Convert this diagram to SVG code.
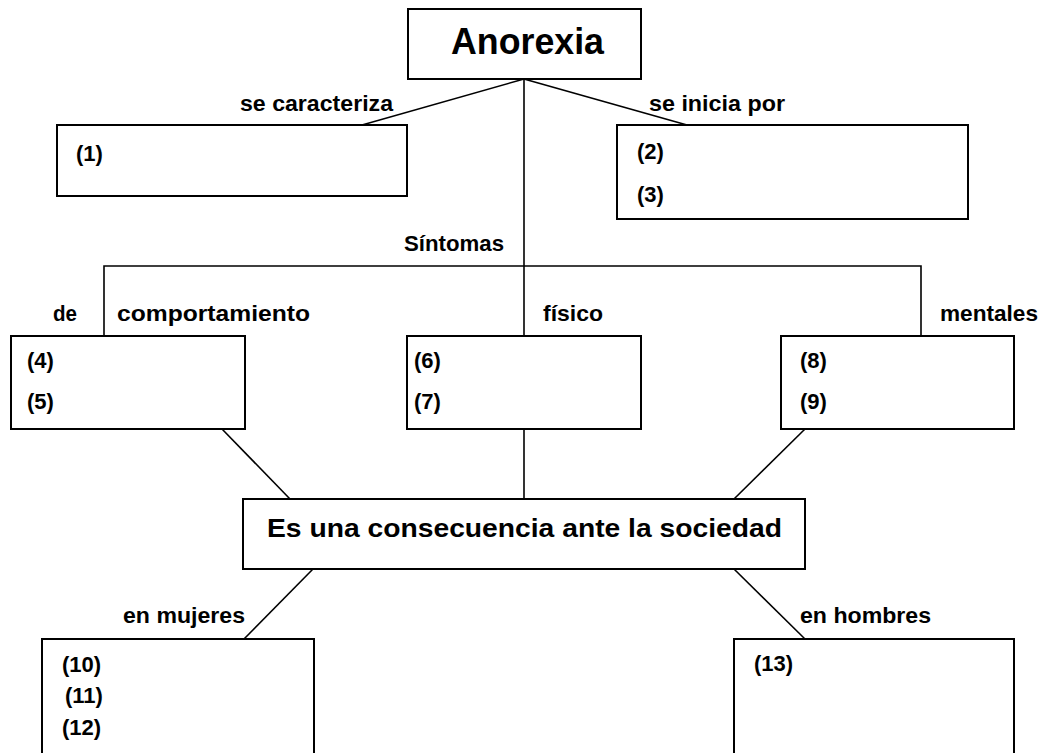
<svg xmlns="http://www.w3.org/2000/svg" width="1042" height="753" viewBox="0 0 1042 753">
<style>
.box{fill:#fff;stroke:#000;stroke-width:2}
.ln{fill:none;stroke:#000;stroke-width:1.6}
text{font-family:"Liberation Sans",Arial,sans-serif;font-weight:bold;fill:#000}
.lbl{font-size:22px}
.big{font-size:36px}
.mid{font-size:26px}
</style>
<rect width="1042" height="753" fill="#fff"/>
<g id="connectors">
<line class="ln" x1="524" y1="79" x2="362" y2="125"/>
<line class="ln" x1="524" y1="79" x2="687" y2="125"/>
<line class="ln" x1="524" y1="79" x2="524" y2="336"/>
<polyline class="ln" points="104,336 104,266 921,266 921,336"/>
<line class="ln" x1="524" y1="429" x2="524" y2="499"/>
<line class="ln" x1="222" y1="429" x2="290" y2="499"/>
<line class="ln" x1="805" y1="429" x2="734" y2="499"/>
<line class="ln" x1="313" y1="569" x2="244" y2="639"/>
<line class="ln" x1="734" y1="569" x2="805" y2="639"/>
<text class="lbl" x="240" y="110.5" textLength="153" lengthAdjust="spacingAndGlyphs">se caracteriza</text>
<text class="lbl" x="649" y="110.5" textLength="136" lengthAdjust="spacingAndGlyphs">se inicia por</text>
<text class="lbl" x="404" y="251" textLength="100" lengthAdjust="spacingAndGlyphs">Síntomas</text>
<text class="lbl" x="53" y="320.5" textLength="24" lengthAdjust="spacingAndGlyphs">de</text>
<text class="lbl" x="117" y="320.5" textLength="193" lengthAdjust="spacingAndGlyphs">comportamiento</text>
<text class="lbl" x="543" y="320.5" textLength="60" lengthAdjust="spacingAndGlyphs">físico</text>
<text class="lbl" x="940" y="320.5" textLength="98" lengthAdjust="spacingAndGlyphs">mentales</text>
<text class="lbl" x="123" y="623" textLength="122" lengthAdjust="spacingAndGlyphs">en mujeres</text>
<text class="lbl" x="800" y="623" textLength="131" lengthAdjust="spacingAndGlyphs">en hombres</text>
</g>
<g id="anorexia">
<rect class="box" x="408" y="9" width="233" height="70"/>
<text class="big" x="451" y="54" textLength="153" lengthAdjust="spacingAndGlyphs">Anorexia</text>
</g>
<g id="n1">
<rect class="box" x="57" y="125" width="350" height="71"/>
<text class="lbl" x="76" y="161">(1)</text>
</g>
<g id="n2">
<rect class="box" x="617" y="125" width="351" height="94"/>
<text class="lbl" x="637" y="159">(2)</text>
<text class="lbl" x="637" y="202">(3)</text>
</g>
<g id="comportamiento">
<rect class="box" x="11" y="336" width="234" height="93"/>
<text class="lbl" x="27" y="368">(4)</text>
<text class="lbl" x="27" y="409">(5)</text>
</g>
<g id="fisico">
<rect class="box" x="407" y="336" width="234" height="93"/>
<text class="lbl" x="414" y="368">(6)</text>
<text class="lbl" x="414" y="409">(7)</text>
</g>
<g id="mentales">
<rect class="box" x="781" y="336" width="233" height="93"/>
<text class="lbl" x="800" y="368">(8)</text>
<text class="lbl" x="800" y="409">(9)</text>
</g>
<g id="consecuencia">
<rect class="box" x="243" y="499" width="562" height="70"/>
<text class="mid" x="267" y="536.5" textLength="515" lengthAdjust="spacingAndGlyphs">Es una consecuencia ante la sociedad</text>
</g>
<g id="mujeres">
<rect class="box" x="42" y="639" width="272" height="130"/>
<text class="lbl" x="62" y="672">(10)</text>
<text class="lbl" x="65" y="703">(11)</text>
<text class="lbl" x="62" y="735">(12)</text>
</g>
<g id="hombres">
<rect class="box" x="734" y="639" width="280" height="130"/>
<text class="lbl" x="754" y="671">(13)</text>
</g>
</svg>
